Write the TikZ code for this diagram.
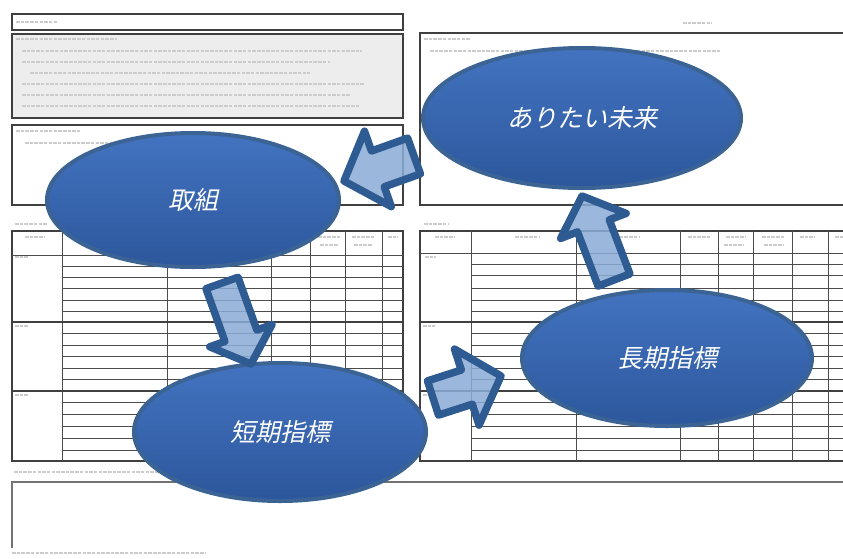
\documentclass[tikz,border=0pt]{standalone}
\usepackage{fontspec}
\newfontfamily\jp[FakeSlant=0.22]{Noto Sans CJK JP}
\usetikzlibrary{shapes.geometric}
\definecolor{ellA}{HTML}{4373C0}
\definecolor{ellB}{HTML}{2C579C}
\definecolor{ellrim}{HTML}{3B6393}
\definecolor{arrrim}{HTML}{2F5B93}
\definecolor{arrfill}{HTML}{8AACD7}
\definecolor{boxgray}{HTML}{EDEDED}
\tikzset{
  goal/.style={ellipse, draw=ellrim, line width=4pt, top color=ellA, bottom color=ellB,
    text=white, font=\jp\fontsize{25}{30}\selectfont, inner sep=0pt},
  blockarr/.style={draw=arrrim, line width=7.5pt, line join=round, fill=arrfill, fill opacity=0.85},
  ghost/.style={line width=2.2pt, gray!40, dash pattern=on 3.5pt off 1.2pt},
  frame/.style={draw=black!75, line width=1.1pt},
  grid/.style={draw=black!70, line width=0.7pt}
}
\newcommand\ghostline[3]{\draw[ghost] (#1,#3) -- (#2,#3);}
\begin{document}
\begin{tikzpicture}[x=1pt,y=-1pt]
\useasboundingbox (0,0) rectangle (843,558);
\fill[white] (0,0) rectangle (843,558);

% ---------- left page background ----------
\draw[frame] (12,14) rectangle (403,30);
\ghostline{16}{58}{22}
\draw[frame, fill=boxgray] (12,34) rectangle (403,118);
\ghostline{16}{117}{39}
\ghostline{22}{362}{51}
\ghostline{22}{330}{62}
\ghostline{30}{310}{73}
\ghostline{22}{365}{84}
\ghostline{22}{350}{95}
\ghostline{22}{360}{106}
\draw[frame] (12,125) rectangle (403,205);
\ghostline{16}{80}{131}
\ghostline{25}{110}{143}
\ghostline{15}{47}{224}

% left table
\draw[frame] (12,231) rectangle (403,461);
\foreach \x in {62,167,271,310,345,382} \draw[grid] (\x,231) -- (\x,461);
\draw[grid] (12,255) -- (403,255);
\draw[frame] (12,322) -- (403,322);
\draw[frame] (12,391) -- (403,391);
\foreach \y in {266,277,288,300,311, 333,345,356,368,379, 402,414,426,438,450}
  \draw[grid] (62,\y) -- (403,\y);
\ghostline{25}{45}{237}
\ghostline{318}{340}{237}
\ghostline{320}{338}{245}
\ghostline{352}{374}{237}
\ghostline{354}{372}{245}
\ghostline{388}{398}{237}
\ghostline{15}{28}{257}
\ghostline{15}{28}{326}
\ghostline{15}{28}{395}

% ---------- right page background ----------
\ghostline{683}{712}{23}
\draw[frame] (420,33) rectangle (850,205);
\ghostline{424}{470}{39}
\ghostline{430}{720}{51}
\ghostline{424}{448}{224}

\draw[frame] (420,231) rectangle (850,461);
\foreach \x in {471,576,680,718,753,792,828} \draw[grid] (\x,231) -- (\x,461);
\draw[grid] (420,253) -- (843,253);
\draw[frame] (420,322) -- (843,322);
\draw[frame] (420,391) -- (843,391);
\foreach \y in {264,275,288,300,311, 333,345,356,368,379, 402,414,426,438,450}
  \draw[grid] (471,\y) -- (843,\y);
\ghostline{435}{455}{237}
\ghostline{515}{540}{237}
\ghostline{615}{640}{237}
\ghostline{688}{710}{237}
\ghostline{726}{745}{237}
\ghostline{724}{744}{245}
\ghostline{762}{785}{237}
\ghostline{764}{783}{245}
\ghostline{800}{815}{237}
\ghostline{835}{843}{237}
\ghostline{425}{436}{257}
\ghostline{423}{435}{326}
\ghostline{423}{435}{395}

% ---------- bottom area ----------
\ghostline{14}{250}{472}
\draw[draw=black!55, line width=1.3pt] (843,482) -- (12,482) -- (12,548);
\ghostline{12}{205}{553}

% ---------- ellipses ----------
\node[goal, minimum width=318pt, minimum height=140pt] (mirai) at (582,118) {ありたい未来};
\node[goal, minimum width=292pt, minimum height=134pt] (torikumi) at (193,200) {取組};
\node[goal, minimum width=292pt, minimum height=138pt] (tanki) at (280,432) {短期指標};
\node[goal, minimum width=290pt, minimum height=136pt] (choki) at (667,358) {長期指標};

% ---------- block arrows ----------
% ありたい未来 -> 取組
\draw[blockarr] (407.6,138.1) -- (371.5,151.0) -- (364.5,131.2) -- (344,181)
  -- (391.3,206.6) -- (384.3,186.8) -- (420.4,173.9) -- cycle;
% 取組 -> 短期指標
\draw[blockarr] (206.0,288.7) -- (224.9,341.4) -- (209.8,346.8) -- (251,364)
  -- (272.0,324.6) -- (256.9,330.0) -- (238.0,277.3) -- cycle;
% 短期指標 -> 長期指標
\draw[blockarr] (438.5,415.1) -- (472.3,404.2) -- (479.1,425.1) -- (501,376)
  -- (454.5,349.1) -- (461.3,370.0) -- (427.5,380.9) -- cycle;
% 長期指標 -> ありたい未来
\draw[blockarr] (629.9,273.9) -- (609.3,219.8) -- (626.1,213.4) -- (582,196)
  -- (560.7,238.4) -- (577.5,231.9) -- (598.1,286.1) -- cycle;
\end{tikzpicture}
\end{document}
